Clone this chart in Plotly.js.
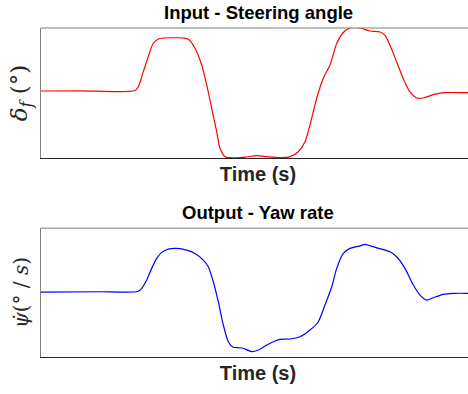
<!DOCTYPE html>
<html><head><meta charset="utf-8">
<script src="https://cdn.plot.ly/plotly-3.0.1.min.js"></script>
<style>html,body{margin:0;padding:0;overflow:hidden;background:#fff}#chart{width:478px;height:394px}</style>
</head><body><div id="chart"></div>
<script>
// Input - steering angle (deg) vs time (s)
const steerTime = [0, 3.9, 9.4, 9.73, 10.23, 10.73, 11.23, 11.73, 12.23, 13.2, 14.23, 14.73, 15.4, 16.07, 16.57, 17.07, 17.57, 17.9, 18.4, 18.9, 19.9, 20.57, 21.57, 22.57, 23.9, 24.9, 25.73, 26.4, 26.9, 27.57, 28.23, 28.9, 29.57, 30.23, 30.9, 31.9, 32.9, 33.9, 34.4, 34.9, 35.57, 36.23, 36.9, 37.57, 38.23, 39.23, 40.23, 42.57, 43.4];
const steerAngle = [0, 0.02, 0.05, 0.43, 1.93, 3.43, 4.77, 5.2, 5.3, 5.32, 5.3, 5.17, 4.27, 2.6, 0.6, -1.73, -4.07, -5.73, -6.57, -6.67, -6.67, -6.6, -6.47, -6.57, -6.67, -6.57, -6.07, -5.07, -3.4, -0.73, 1.27, 2.6, 4.75, 5.85, 6.3, 6.3, 6.0, 5.9, 5.57, 4.57, 2.9, 1.23, -0.1, -0.7, -0.7, -0.37, -0.17, -0.17, -0.17];
// Output - yaw rate (deg/s) vs time (s)
const yawTime = [0, 5.9, 9.7, 10.07, 10.57, 11.07, 11.57, 12.07, 12.73, 13.57, 14.57, 15.4, 16.23, 16.73, 17.23, 17.73, 18.23, 18.73, 19.23, 19.73, 20.23, 21.07, 21.73, 22.57, 23.4, 23.9, 24.9, 25.9, 26.9, 27.73, 28.4, 29.07, 29.57, 30.23, 30.9, 31.9, 32.4, 33.57, 34.9, 35.57, 36.4, 37.23, 37.9, 38.57, 39.23, 40.23, 41.23, 43.4];
const yawRate = [0, 0.15, 0.25, 1.85, 6, 11.85, 16.85, 19.85, 21.5, 21.85, 21, 19.35, 16, 12.65, 5.15, -4.85, -16.5, -24.85, -27.65, -27.85, -28.15, -29.85, -29, -26.5, -24.5, -23.65, -23.5, -22.35, -19, -14.85, -6.5, 2.5, 11.85, 19.35, 21.85, 23.15, 23.85, 22.15, 20.15, 17.65, 11.85, 3.5, -1.5, -4, -2.85, -1.15, -0.65, -0.65];
const titles = ['Input - Steering angle', 'Output - Yaw rate'];
const xLabel = 'Time (s)';

const traces = [
  {x: steerTime, y: steerAngle, xaxis: 'x', yaxis: 'y', mode: 'lines', line: {color: '#ff0000', width: 1.2, shape: 'spline', smoothing: 0.8}, hoverinfo: 'skip'},
  {x: yawTime, y: yawRate, xaxis: 'x2', yaxis: 'y2', mode: 'lines', line: {color: '#0000ff', width: 1.2, shape: 'spline', smoothing: 0.6}, hoverinfo: 'skip'}
];

const xCommon = {showticklabels: false, ticks: '', showgrid: false, zeroline: false, showline: true, linecolor: '#262626', linewidth: 1, range: [0, 43.4],
  title: {text: '<b>' + xLabel + '</b>', font: {family: 'Liberation Sans, Arial', size: 20, color: '#262626'}, standoff: 9}};
const yCommon = {showticklabels: false, ticks: '', showgrid: false, zeroline: false, showline: true, mirror: true, linecolor: '#808080', linewidth: 1};

const layout = {
  width: 478, height: 394,
  margin: {l: 41, r: 3, t: 0, b: 0},
  paper_bgcolor: '#fff', plot_bgcolor: '#fff',
  showlegend: false,
  xaxis: Object.assign({}, xCommon, {anchor: 'y'}),
  xaxis2: Object.assign({}, xCommon, {anchor: 'y2'}),
  yaxis: Object.assign({}, yCommon, {domain: [0.599, 0.929], range: [-6.7, 6.3],
    title: {text: '<i>δ<sub>f</sub></i> (°)', font: {family: 'DejaVu Serif', size: 23, color: '#262626'}, standoff: 5}}),
  yaxis2: Object.assign({}, yCommon, {domain: [0.094, 0.421], range: [-32.5, 32],
    title: {text: '<i>ψ̇</i>(° / <i>s</i>)', font: {family: 'DejaVu Serif', size: 20, color: '#262626'}, standoff: 5}}),
  shapes: [
    {type: 'line', xref: 'x domain', yref: 'y domain', x0: 0, x1: 1, y0: 1, y1: 1, line: {color: '#808080', width: 1}},
    {type: 'line', xref: 'x2 domain', yref: 'y2 domain', x0: 0, x1: 1, y0: 1, y1: 1, line: {color: '#808080', width: 1}}
  ],
  annotations: [
    {text: '<b>' + titles[0] + '</b>', xref: 'x domain', yref: 'y domain', x: 0.5, y: 1, yshift: 3, yanchor: 'bottom', showarrow: false, font: {family: 'Liberation Sans, Arial', size: 18.5, color: '#000'}},
    {text: '<b>' + titles[1] + '</b>', xref: 'x2 domain', yref: 'y2 domain', x: 0.5, y: 1, yshift: 3, yanchor: 'bottom', showarrow: false, font: {family: 'Liberation Sans, Arial', size: 18.5, color: '#000'}}
  ]
};
Plotly.newPlot('chart', traces, layout, {displayModeBar: false, staticPlot: true});
</script></body></html>
